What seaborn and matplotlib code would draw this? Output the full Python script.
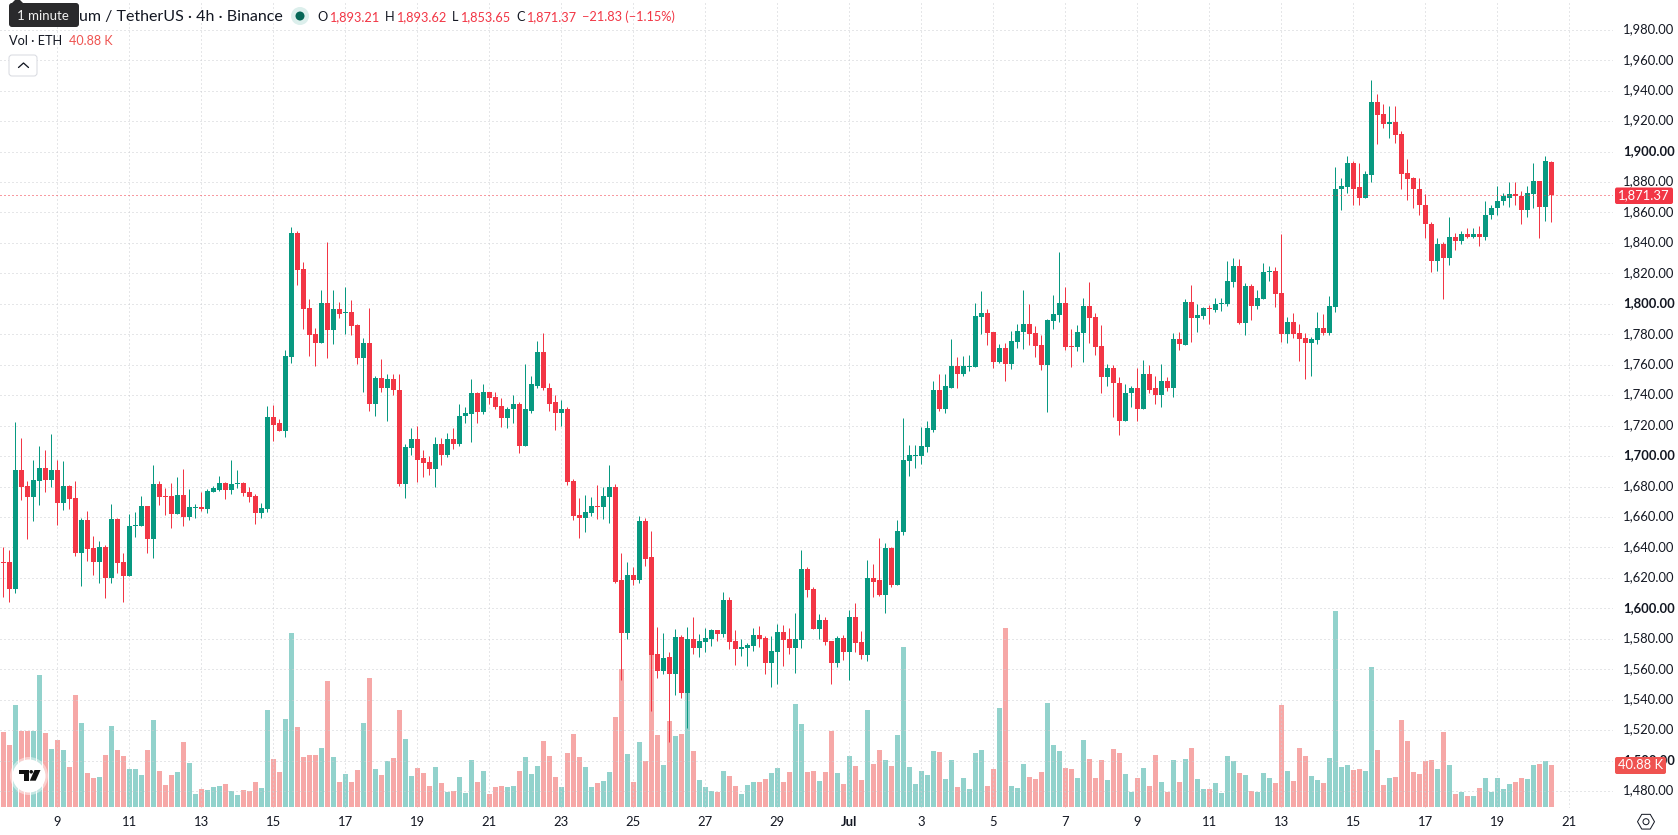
import matplotlib
matplotlib.use("Agg")
import matplotlib.pyplot as plt
from matplotlib.patches import Circle, FancyBboxPatch, Polygon, Rectangle, RegularPolygon
from matplotlib.transforms import ScaledTranslation
import numpy as np
import pandas as pd
import seaborn as sns

# ETH/USDT 4h candles, 7 Jun to 20 Jul
opens = [
    1630.5, 1630.5, 1612.7, 1691.0, 1680.5, 1673.2, 1683.8, 1692.3, 1684.4, 1691.0,
    1669.3, 1680.5, 1672.6, 1636.4, 1658.1, 1639.7, 1630.5, 1640.4, 1620.0, 1658.8,
    1630.5, 1621.3, 1654.2, 1654.2, 1667.3, 1645.6, 1681.8, 1673.9, 1673.9, 1662.1,
    1674.6, 1660.1, 1666.0, 1666.7, 1665.4, 1676.5, 1677.9, 1682.5, 1677.9, 1681.8,
    1682.5, 1676.5, 1673.9, 1662.7, 1665.4, 1725.9, 1721.4, 1716.7, 1764.8, 1846.4,
    1822.7, 1797.0, 1779.9, 1774.0, 1800.3, 1782.5, 1796.4, 1793.7, 1794.4, 1785.8,
    1764.1, 1774.0, 1734.5, 1751.0, 1744.4, 1750.3, 1743.7, 1681.9, 1705.6, 1711.5,
    1698.4, 1696.4, 1691.8, 1708.2, 1701.0, 1711.5, 1708.2, 1726.0, 1727.3, 1741.1,
    1729.2, 1741.8, 1738.5, 1733.2, 1725.3, 1730.6, 1734.5, 1706.9, 1729.9, 1746.3,
    1768.1, 1745.0, 1735.2, 1728.0, 1730.6, 1683.9, 1661.0, 1659.0, 1662.3, 1666.9,
    1666.3, 1672.9, 1679.4, 1618.3, 1584.0, 1622.2, 1618.9, 1657.1, 1633.4, 1570.2,
    1559.0, 1568.2, 1557.0, 1581.4, 1544.5, 1580.1, 1574.2, 1578.1, 1580.1, 1586.0,
    1583.4, 1605.7, 1578.8, 1573.5, 1574.2, 1575.5, 1582.7, 1580.7, 1564.3, 1571.5,
    1584.7, 1580.1, 1574.2, 1579.4, 1625.5, 1613.0, 1586.7, 1592.6, 1578.8, 1564.3,
    1580.7, 1571.5, 1594.5, 1578.1, 1569.6, 1620.2, 1618.3, 1609.0, 1639.3, 1615.6,
    1650.1, 1696.8, 1700.1, 1700.1, 1706.2, 1717.4, 1743.1, 1731.2, 1745.0, 1758.9,
    1753.6, 1758.2, 1758.2, 1791.1, 1793.7, 1781.2, 1761.5, 1770.7, 1760.2, 1774.6,
    1781.2, 1786.5, 1780.6, 1772.7, 1759.5, 1788.5, 1792.4, 1800.3, 1772.0, 1771.3,
    1780.6, 1798.3, 1791.1, 1772.0, 1751.6, 1757.6, 1748.3, 1722.7, 1741.1, 1744.4,
    1730.6, 1753.6, 1744.4, 1739.8, 1749.0, 1745.0, 1776.6, 1773.1, 1801.4, 1790.9,
    1792.2, 1797.5, 1796.1, 1800.1, 1800.1, 1814.6, 1825.1, 1787.6, 1811.9, 1798.8,
    1803.4, 1821.1, 1821.8, 1807.3, 1780.3, 1788.3, 1781.0, 1777.7, 1774.4, 1776.4,
    1784.3, 1781.0, 1798.1, 1875.1, 1876.4, 1892.2, 1876.4, 1869.8, 1884.3, 1932.3,
    1924.4, 1917.8, 1919.2, 1911.3, 1885.6, 1882.3, 1875.7, 1865.2, 1852.7, 1828.4,
    1839.6, 1830.4, 1844.2, 1841.5, 1846.1, 1844.2, 1846.1, 1844.2, 1858.0, 1862.6,
    1867.2, 1869.8, 1871.8, 1871.1, 1861.9, 1871.8, 1880.4, 1863.9, 1893.21,
]
highs = [
    1640.4, 1638.4, 1722.6, 1712.1, 1683.8, 1697.6, 1706.8, 1704.2, 1714.7, 1697.6,
    1696.9, 1681.1, 1683.8, 1659.4, 1664.0, 1647.6, 1644.3, 1641.7, 1668.6, 1659.4,
    1636.4, 1662.1, 1663.4, 1673.9, 1667.3, 1694.3, 1683.8, 1679.2, 1682.5, 1686.4,
    1691.7, 1678.5, 1668.6, 1676.5, 1678.5, 1680.5, 1687.1, 1683.1, 1697.6, 1691.0,
    1683.1, 1679.8, 1675.2, 1669.3, 1733.1, 1733.8, 1724.6, 1769.4, 1850.3, 1847.7,
    1827.3, 1802.9, 1783.9, 1808.9, 1840.4, 1808.9, 1801.0, 1810.8, 1802.3, 1786.5,
    1777.3, 1797.0, 1752.3, 1763.5, 1753.6, 1754.2, 1753.6, 1708.2, 1718.1, 1720.0,
    1704.2, 1700.3, 1712.8, 1712.1, 1715.4, 1718.7, 1734.5, 1732.5, 1750.3, 1741.8,
    1747.0, 1741.8, 1741.8, 1737.8, 1732.5, 1739.8, 1735.8, 1760.2, 1752.3, 1775.3,
    1780.6, 1748.3, 1740.4, 1737.1, 1731.9, 1685.2, 1672.2, 1674.2, 1672.9, 1680.8,
    1679.4, 1693.9, 1681.4, 1636.0, 1630.1, 1626.8, 1660.3, 1659.0, 1650.5, 1588.0,
    1584.0, 1571.5, 1586.7, 1582.7, 1588.0, 1594.5, 1583.4, 1587.3, 1586.7, 1586.0,
    1611.0, 1607.7, 1586.0, 1580.1, 1577.4, 1587.3, 1588.6, 1582.1, 1582.1, 1590.0,
    1589.3, 1587.3, 1597.2, 1638.0, 1626.8, 1614.3, 1596.5, 1594.5, 1578.8, 1582.1,
    1582.7, 1599.2, 1603.8, 1585.3, 1631.4, 1629.4, 1646.5, 1642.6, 1640.0, 1657.7,
    1725.1, 1707.3, 1707.3, 1719.2, 1722.7, 1749.6, 1753.6, 1753.6, 1776.6, 1764.8,
    1765.4, 1766.1, 1800.3, 1808.2, 1796.4, 1781.2, 1773.3, 1774.0, 1781.9, 1786.5,
    1808.9, 1799.7, 1785.2, 1779.2, 1789.8, 1805.6, 1833.9, 1810.8, 1783.2, 1785.8,
    1803.6, 1814.1, 1793.7, 1785.8, 1760.2, 1759.5, 1751.6, 1747.0, 1745.7, 1757.6,
    1762.8, 1759.5, 1752.9, 1760.2, 1751.6, 1780.6, 1781.2, 1803.4, 1812.6, 1800.1,
    1798.1, 1799.4, 1804.0, 1804.0, 1828.4, 1830.4, 1829.7, 1813.9, 1813.2, 1809.3,
    1827.1, 1825.1, 1824.4, 1846.1, 1791.5, 1794.2, 1786.9, 1781.0, 1778.4, 1794.8,
    1793.5, 1805.4, 1889.6, 1882.3, 1896.8, 1893.5, 1892.2, 1886.9, 1946.8, 1937.6,
    1931.0, 1929.7, 1929.7, 1913.3, 1894.8, 1883.6, 1882.3, 1871.8, 1853.4, 1843.5,
    1840.9, 1856.7, 1846.8, 1847.5, 1850.1, 1850.1, 1851.4, 1867.8, 1864.6, 1877.7,
    1872.5, 1879.7, 1879.7, 1874.4, 1877.7, 1892.2, 1880.4, 1896.8, 1893.62,
]
lows = [
    1607.7, 1604.2, 1610.1, 1671.3, 1645.6, 1657.5, 1668.0, 1676.5, 1679.8, 1654.8,
    1664.7, 1665.4, 1634.4, 1614.7, 1631.1, 1621.9, 1616.7, 1606.8, 1616.7, 1623.2,
    1604.2, 1621.3, 1646.9, 1654.2, 1636.4, 1633.1, 1668.0, 1661.4, 1652.8, 1662.1,
    1654.2, 1658.1, 1659.4, 1664.0, 1662.7, 1676.5, 1677.2, 1671.9, 1675.2, 1679.2,
    1673.9, 1670.0, 1655.5, 1659.4, 1663.4, 1710.1, 1716.7, 1712.8, 1760.8, 1812.1,
    1783.2, 1765.4, 1758.9, 1774.0, 1764.1, 1773.3, 1790.4, 1779.9, 1779.3, 1760.2,
    1741.8, 1729.9, 1726.0, 1741.8, 1722.7, 1739.8, 1680.6, 1672.7, 1701.0, 1683.2,
    1686.5, 1687.8, 1679.9, 1694.4, 1699.6, 1704.9, 1706.9, 1722.0, 1708.9, 1721.4,
    1727.3, 1733.9, 1730.6, 1719.4, 1718.1, 1722.0, 1702.3, 1706.9, 1728.6, 1744.4,
    1743.1, 1729.9, 1717.4, 1720.0, 1681.2, 1658.2, 1645.9, 1649.8, 1660.3, 1658.4,
    1658.4, 1655.7, 1616.9, 1553.1, 1580.1, 1615.0, 1616.9, 1628.1, 1532.7, 1554.4,
    1557.0, 1512.3, 1543.2, 1541.3, 1521.5, 1570.2, 1568.2, 1571.5, 1575.5, 1578.8,
    1581.4, 1573.5, 1563.0, 1568.9, 1562.3, 1572.2, 1574.8, 1557.0, 1548.5, 1550.5,
    1562.3, 1570.2, 1557.7, 1574.2, 1607.7, 1586.7, 1580.1, 1576.1, 1550.5, 1561.7,
    1566.3, 1553.1, 1571.5, 1566.9, 1565.6, 1607.1, 1608.4, 1597.2, 1614.3, 1615.0,
    1648.1, 1687.0, 1692.2, 1694.8, 1702.9, 1716.1, 1729.9, 1728.6, 1744.4, 1744.4,
    1752.3, 1755.6, 1758.2, 1779.9, 1772.7, 1757.6, 1760.8, 1749.6, 1756.9, 1770.7,
    1770.0, 1772.7, 1764.8, 1756.2, 1729.2, 1783.2, 1787.8, 1769.4, 1758.2, 1768.7,
    1761.5, 1774.0, 1766.1, 1741.7, 1745.7, 1725.9, 1714.1, 1722.7, 1731.9, 1722.7,
    1730.6, 1741.7, 1733.9, 1732.5, 1742.4, 1738.5, 1769.4, 1773.1, 1775.1, 1781.7,
    1790.2, 1786.9, 1794.8, 1795.5, 1798.8, 1811.3, 1786.9, 1779.7, 1789.6, 1796.8,
    1803.4, 1815.2, 1798.1, 1775.1, 1774.4, 1777.7, 1762.6, 1750.8, 1752.7, 1773.8,
    1779.7, 1779.7, 1794.8, 1861.3, 1872.5, 1864.6, 1865.2, 1869.8, 1879.7, 1904.7,
    1915.2, 1908.6, 1905.4, 1875.7, 1867.9, 1863.2, 1858.0, 1843.5, 1821.1, 1821.8,
    1803.4, 1825.7, 1835.6, 1839.6, 1842.9, 1842.9, 1838.2, 1842.2, 1856.0, 1858.6,
    1864.6, 1863.9, 1865.2, 1852.1, 1857.3, 1862.6, 1843.5, 1854.7, 1853.65,
]
closes = [
    1629.8, 1612.7, 1691.0, 1679.8, 1673.2, 1684.4, 1692.3, 1684.4, 1691.0, 1669.3,
    1680.5, 1671.9, 1636.4, 1658.1, 1639.0, 1630.5, 1640.4, 1620.0, 1658.8, 1629.8,
    1621.3, 1654.2, 1654.8, 1667.3, 1645.6, 1681.8, 1673.2, 1673.2, 1662.1, 1674.6,
    1660.1, 1666.7, 1666.7, 1665.4, 1677.2, 1679.2, 1682.5, 1677.9, 1681.8, 1682.5,
    1675.9, 1673.2, 1662.7, 1666.0, 1725.9, 1720.6, 1716.7, 1765.4, 1846.4, 1822.0,
    1796.4, 1779.3, 1774.0, 1800.3, 1782.5, 1796.4, 1793.1, 1794.4, 1785.2, 1764.1,
    1774.0, 1734.5, 1751.0, 1744.4, 1750.3, 1743.1, 1681.9, 1706.2, 1711.5, 1697.7,
    1695.7, 1691.8, 1708.2, 1701.0, 1711.5, 1708.2, 1726.6, 1728.0, 1741.1, 1729.2,
    1741.8, 1737.8, 1732.5, 1725.3, 1731.2, 1734.5, 1706.9, 1730.6, 1747.0, 1768.1,
    1744.4, 1734.5, 1728.0, 1730.6, 1683.2, 1660.8, 1659.0, 1663.0, 1666.9, 1666.3,
    1673.5, 1679.4, 1617.6, 1584.0, 1622.2, 1618.9, 1657.1, 1632.7, 1569.6, 1559.0,
    1567.6, 1557.0, 1581.4, 1544.5, 1580.1, 1574.2, 1578.8, 1580.7, 1586.0, 1583.4,
    1605.7, 1578.1, 1573.5, 1574.8, 1576.1, 1582.7, 1580.1, 1564.3, 1572.2, 1584.7,
    1579.4, 1574.2, 1580.1, 1625.5, 1612.3, 1586.7, 1592.6, 1578.1, 1564.3, 1580.7,
    1571.5, 1594.5, 1577.4, 1569.6, 1620.2, 1617.6, 1609.0, 1639.3, 1615.6, 1650.5,
    1697.5, 1700.8, 1700.8, 1706.7, 1718.1, 1743.1, 1731.2, 1745.7, 1758.9, 1753.6,
    1758.9, 1758.9, 1791.8, 1793.7, 1780.6, 1761.5, 1770.7, 1760.2, 1775.3, 1781.9,
    1786.5, 1779.9, 1772.0, 1759.5, 1789.1, 1793.1, 1800.3, 1771.3, 1771.3, 1781.2,
    1798.3, 1790.4, 1771.3, 1751.6, 1757.6, 1747.7, 1722.7, 1741.7, 1744.4, 1730.6,
    1754.2, 1743.7, 1739.8, 1749.0, 1745.0, 1776.6, 1773.3, 1801.4, 1790.9, 1792.9,
    1797.5, 1796.8, 1800.1, 1800.8, 1815.2, 1825.1, 1787.6, 1811.9, 1798.8, 1804.0,
    1821.1, 1821.8, 1806.7, 1780.3, 1788.3, 1780.3, 1777.0, 1774.4, 1777.0, 1784.3,
    1781.0, 1798.8, 1875.7, 1877.1, 1892.2, 1875.7, 1869.8, 1885.0, 1932.3, 1923.8,
    1917.8, 1919.2, 1910.6, 1885.0, 1881.7, 1875.1, 1864.6, 1852.1, 1828.4, 1839.6,
    1830.4, 1844.2, 1841.5, 1846.1, 1844.2, 1846.1, 1844.2, 1858.6, 1863.2, 1867.8,
    1870.5, 1871.8, 1871.1, 1861.9, 1872.5, 1880.4, 1863.9, 1893.5, 1871.37,
]
# Traded volume per bar, in thousands of ETH
volumes = [
    73.0, 60.3, 99.3, 74.0, 74.0, 74.0, 128.5, 72.0, 56.4, 65.2,
    55.5, 38.9, 109.0, 81.7, 33.1, 28.2, 29.2, 50.6, 78.8, 55.5,
    49.6, 37.0, 37.0, 31.1, 55.5, 84.7, 35.0, 21.4, 31.1, 34.1,
    63.3, 42.8, 12.7, 17.5, 16.5, 19.5, 20.4, 22.4, 15.6, 11.7,
    16.5, 15.6, 24.3, 18.5, 94.4, 46.7, 34.1, 85.6, 169.3, 77.9,
    48.7, 50.6, 50.6, 57.4, 122.6, 48.7, 24.3, 32.1, 24.3, 36.0,
    81.7, 125.5, 37.0, 31.1, 44.8, 47.7, 94.4, 66.2, 30.2, 38.0,
    33.1, 20.4, 38.9, 23.4, 14.6, 15.6, 29.2, 13.6, 45.7, 24.3,
    35.0, 12.7, 19.5, 20.4, 19.5, 20.4, 35.0, 48.7, 32.1, 39.9,
    64.2, 49.6, 29.2, 19.5, 52.6, 71.0, 48.7, 38.9, 19.5, 23.4,
    25.3, 34.1, 87.6, 134.3, 51.6, 24.3, 63.3, 44.8, 151.2, 70.1,
    40.9, 83.7, 69.1, 71.0, 115.5, 54.5, 26.3, 19.5, 15.6, 14.6,
    35.0, 30.2, 20.4, 12.7, 21.4, 24.3, 24.3, 27.2, 33.1, 38.0,
    24.3, 34.1, 100.2, 80.8, 34.1, 35.0, 25.3, 34.1, 74.0, 33.1,
    22.4, 49.6, 39.9, 26.3, 94.4, 41.8, 55.5, 45.7, 39.9, 70.1,
    155.7, 38.9, 22.4, 35.0, 31.1, 54.5, 53.5, 27.2, 45.7, 19.5,
    28.2, 17.5, 52.6, 55.5, 20.4, 37.0, 96.3, 174.2, 20.4, 18.5,
    41.8, 29.2, 27.2, 34.1, 101.2, 60.3, 54.5, 38.0, 37.0, 28.2,
    65.2, 46.7, 28.2, 45.7, 26.3, 56.4, 52.6, 32.1, 14.6, 28.2,
    38.0, 20.4, 50.6, 24.3, 14.6, 45.7, 24.3, 46.7, 57.4, 27.2,
    17.5, 17.5, 23.4, 13.6, 49.6, 44.8, 33.1, 31.1, 15.6, 14.6,
    33.1, 28.2, 23.4, 99.3, 35.0, 25.3, 57.4, 49.6, 30.2, 26.3,
    23.4, 47.7, 190.8, 38.9, 40.9, 36.0, 37.0, 35.0, 136.2, 55.5,
    21.4, 28.2, 29.2, 84.7, 64.2, 34.1, 32.1, 44.8, 45.7, 37.0,
    73.0, 40.9, 12.7, 14.6, 10.7, 10.7, 18.5, 28.2, 14.6, 28.2,
    17.5, 22.4, 24.3, 28.2, 27.2, 40.9, 41.8, 44.8, 40.88,
]
date_ticks = ["9", "11", "13", "15", "17", "19", "21", "23", "25", "27", "29", "Jul",
              "3", "5", "7", "9", "11", "13", "15", "17", "19", "21"]
price_ticks = list(range(1480, 2000, 20))
last_close = 1871.37

UP, DOWN = "#089981", "#F23645"
VOL_UP, VOL_DOWN = "#26A69A", "#EF5350"
GRID = "#CDCED3"
INK = "#131722"
FONT = "Lato"

sns.set_theme(style="white")
plt.rcParams["font.family"] = [FONT, "DejaVu Sans"]

W, H = 1678, 835
PANE_W, PANE_H = 1613, 808


def px(size):
    return size * 0.72


candles = pd.DataFrame({"bar": np.arange(len(opens)), "open": opens, "high": highs,
                        "low": lows, "close": closes, "volume": volumes})
candles["rising"] = candles["close"] >= candles["open"]
candles["body_low"] = candles[["open", "close"]].min(axis=1)
candles["body"] = (candles["close"] - candles["open"]).abs()

fig = plt.figure(figsize=(W / 100, H / 100), dpi=100, facecolor="white")
pane = [0, 1 - PANE_H / H, PANE_W / W, PANE_H / H]
ax_vol = fig.add_axes(pane, zorder=1)
ax = fig.add_axes(pane, zorder=2, sharex=ax_vol)
ax.patch.set_visible(False)

# Volume histogram on its own scale along the foot of the pane
vol_frame = candles.assign(side=np.where(candles["rising"], "up", "down"))
sns.barplot(data=vol_frame, x="bar", y="volume", hue="side", native_scale=True, dodge=False,
            palette={"up": VOL_UP, "down": VOL_DOWN}, hue_order=["up", "down"], width=5 / 6,
            saturation=1, alpha=0.5, errorbar=None, legend=False, linewidth=0, ax=ax_vol)

# Candle wicks, then bodies
ax.vlines(candles["bar"], candles["low"], candles["high"],
          colors=np.where(candles["rising"], UP, DOWN), linewidth=px(1), zorder=2)
for rising, colour in ((True, UP), (False, DOWN)):
    part = candles[candles["rising"] == rising]
    sns.barplot(data=part, x="bar", y="body", bottom=part["body_low"].to_numpy(), native_scale=True,
                color=colour, width=5 / 6, saturation=1, errorbar=None, linewidth=0, zorder=3, ax=ax)

x_left = -3.33 / 6
x_right = (PANE_W - 3.33) / 6
PX_PER_PRICE = 1.5225
ax.set_xlim(x_left, x_right)
ax.set_ylim(1600 - (PANE_H - 608.3) / PX_PER_PRICE, 1600 + 608.3 / PX_PER_PRICE)
ax_vol.set_xlim(x_left, x_right)
ax_vol.set_ylim(-1 * 0.9732, 807 * 0.9732)
ax_vol.set_axis_off()

ax.set_xlabel("")
ax.set_ylabel("")
for spine in ax.spines.values():
    spine.set_visible(False)

# Dotted grid, price scale on the right, dates below
ax.set_axisbelow(True)
ax.grid(True, color=GRID, linewidth=px(1), linestyle=(0, (1, 3)))
ax.set_xticks(np.arange(len(date_ticks)) * 12 + 9)
ax.set_xticklabels(date_ticks)
ax.yaxis.tick_right()
ax.set_yticks(price_ticks)
ax.set_yticklabels([f"{p:,.2f}" for p in price_ticks])
ax.tick_params(axis="x", length=0, pad=px(8), labelsize=px(13), labelcolor=INK)
ax.tick_params(axis="y", length=0, pad=px(10), labelsize=px(13), labelcolor=INK)
nudge_up = ScaledTranslation(0, 1.5 / 100, fig.dpi_scale_trans)
for label_artist in ax.get_yticklabels():
    label_artist.set_transform(label_artist.get_transform() + nudge_up)
    if float(label_artist.get_text().replace(",", "")) % 100 == 0:
        label_artist.set_fontweight("bold")
for label_artist in ax.get_xticklabels():
    if label_artist.get_text() == "Jul":
        label_artist.set_fontweight("bold")

ax.axhline(last_close, color=DOWN, linewidth=px(1), linestyle=(0, (1, 3)), zorder=4)

# Overlay in screen pixels for the legend rows, price tags and badges
ov = fig.add_axes([0, 0, 1, 1], zorder=5)
ov.set_xlim(0, W)
ov.set_ylim(H, 0)
ov.set_axis_off()
ov.patch.set_visible(False)


def label(x, y, text, size=13, color=INK, **kw):
    kw.setdefault("va", "center")
    kw.setdefault("ha", "left")
    ov.text(x, y, text, fontsize=px(size), color=color, **kw)


def tag(x0, x1, y0, y1, colour, text):
    ov.add_patch(FancyBboxPatch((x0 + 2, y0 + 2), x1 - x0 - 4, y1 - y0 - 4, facecolor=colour,
                                edgecolor=colour, linewidth=0,
                                boxstyle="round,pad=2,rounding_size=2"))
    label((x0 + x1) / 2, (y0 + y1) / 2 - 0.5, text, color="white", ha="center")


# Legend row with symbol and OHLC
label(79, 17.5, "um / TetherUS · 4h · Binance", size=16)
ov.add_patch(Circle((300, 16), 9, facecolor="#DCEFEC", edgecolor="none"))
ov.add_patch(Circle((300, 16), 4.5, facecolor="#056656", edgecolor="none"))
for x, y, text, colour in [
    (317, 17, "O", INK), (329, 17, "1,893.21", DOWN),
    (385, 17, "H", INK), (396, 17, "1,893.62", DOWN),
    (452, 17, "L", INK), (460, 17, "1,853.65", DOWN),
    (516, 17, "C", INK), (526, 17, "1,871.37", DOWN),
    (582, 17, "−21.83 (−1.15%)", DOWN),
    (9, 41, "Vol · ETH", INK),
]:
    label(x, y, text, size=12.8, color=colour)
label(69, 41, "40.88 K", size=12.5, color=VOL_DOWN)

# Hint bubble over the start of the symbol name
ov.add_patch(FancyBboxPatch((12, 6), 64, 18, facecolor="#2A2A2C", edgecolor="none",
                            boxstyle="round,pad=3,rounding_size=3"))
ov.add_patch(Polygon([(11, 4), (15, 0), (20, 0), (24, 4)], facecolor="#2A2A2C", edgecolor="none"))
label(43, 15.5, "1 minute", size=13.3, color="#F0F0F0", ha="center")

# Collapse button
ov.add_patch(FancyBboxPatch((11, 57), 24, 17, facecolor="white", edgecolor="#D8DAE0", linewidth=px(1),
                            boxstyle="round,pad=2,rounding_size=3"))
ov.plot([18.5, 23.5, 28.5], [67.5, 63, 67.5], color=INK, linewidth=px(1.3))

# Price tags on the scale
tag(1615, 1673, 187.5, 204, DOWN, "1,871.37")
tag(1615, 1666, 757, 774, VOL_DOWN, "40.88 K")

# Settings badge in the corner
ov.add_patch(RegularPolygon((1646, 821.7), 6, radius=8.5, orientation=np.pi / 2,
                            facecolor="white", edgecolor=INK, linewidth=px(1)))
ov.add_patch(Circle((1646, 821.7), 3, facecolor="white", edgecolor=INK, linewidth=px(1)))

# Attribution badge at the bottom left
ov.add_patch(Circle((29, 776), 19, facecolor="white", edgecolor="none", alpha=0.45))
ov.add_patch(Circle((29, 776), 16.5, facecolor="white", edgecolor="none"))
ov.add_patch(Rectangle((19, 770), 10, 3.5, facecolor="#111111", edgecolor="none"))
ov.add_patch(Rectangle((24.3, 770), 4.7, 10.7, facecolor="#111111", edgecolor="none"))
ov.add_patch(Circle((31.2, 771.8), 1.8, facecolor="#111111", edgecolor="none"))
ov.add_patch(Polygon([(34.5, 770), (40.5, 770), (35.7, 780.7), (29.8, 780.7)],
                     facecolor="#111111", edgecolor="none"))

fig.savefig("out.png", dpi=100, facecolor="white")
